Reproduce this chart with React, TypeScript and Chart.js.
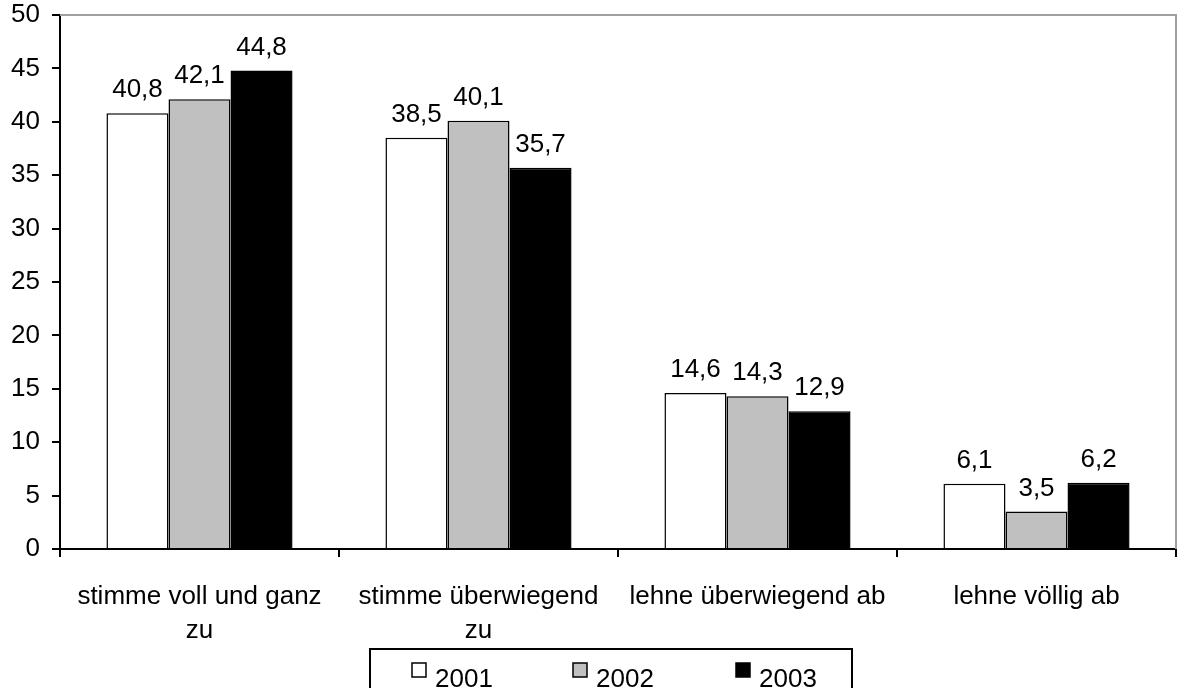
import React, { useEffect, useRef } from "react";
import { Chart, registerables } from "chart.js";

Chart.register(...registerables);

const categories: string[][] = [
  ["stimme voll und ganz", "zu"],
  ["stimme überwiegend", "zu"],
  ["lehne überwiegend ab"],
  ["lehne völlig ab"],
];
const seriesNames = ["2001", "2002", "2003"];
const values2001 = [40.8, 38.5, 14.6, 6.1];
const values2002 = [42.1, 40.1, 14.3, 3.5];
const values2003 = [44.8, 35.7, 12.9, 6.2];
const seriesColors = ["#ffffff", "#c0c0c0", "#000000"];
const yMin = 0;
const yMax = 50;
const yStep = 5;

const FONT = "Liberation Sans, Arial, sans-serif";
const FS = 26;

const valueLabels = {
  id: "valueLabels",
  afterDatasetsDraw(chart: any) {
    const ctx = chart.ctx;
    ctx.save();
    ctx.font = `${FS}px ${FONT}`;
    ctx.fillStyle = "#000";
    ctx.textAlign = "center";
    ctx.textBaseline = "alphabetic";
    chart.data.datasets.forEach((ds: any, i: number) => {
      const meta = chart.getDatasetMeta(i);
      meta.data.forEach((bar: any, j: number) => {
        const v = ds.data[j];
        ctx.fillText(String(v).replace(".", ","), bar.x, bar.y - 16);
      });
    });
    ctx.restore();
  },
};

const frameAndLegend = {
  id: "frameAndLegend",
  afterDraw(chart: any) {
    const ctx = chart.ctx;
    const a = chart.chartArea;
    ctx.save();
    ctx.strokeStyle = "#a0a0a0";
    ctx.lineWidth = 2;
    ctx.beginPath();
    ctx.moveTo(a.left, a.top);
    ctx.lineTo(a.right, a.top);
    ctx.lineTo(a.right, a.bottom);
    ctx.stroke();

    const boxW = 482;
    const cx = (a.left + a.right) / 2 - 7;
    const bx = Math.round(cx - boxW / 2);
    const by = chart.height - 39;
    ctx.strokeStyle = "#000";
    ctx.lineWidth = 2;
    ctx.strokeRect(bx, by, boxW, 80);
    const offsets = [42, 203, 366];
    ctx.font = `${FS}px ${FONT}`;
    ctx.textAlign = "left";
    ctx.textBaseline = "alphabetic";
    seriesNames.forEach((name, i) => {
      const x = bx + offsets[i];
      ctx.fillStyle = seriesColors[i];
      ctx.fillRect(x, by + 14, 14, 14);
      ctx.lineWidth = 1.5;
      ctx.strokeStyle = "#000";
      ctx.strokeRect(x, by + 14, 14, 14);
      ctx.fillStyle = "#000";
      ctx.fillText(name, x + 23, by + 38);
    });
    ctx.restore();
  },
};

export default function App() {
  const ref = useRef<HTMLCanvasElement>(null);
  useEffect(() => {
    const data = [values2001, values2002, values2003];
    const chart = new Chart(ref.current!, {
      type: "bar",
      data: {
        labels: categories,
        datasets: seriesNames.map((n, i) => ({
          label: n,
          data: data[i],
          backgroundColor: seriesColors[i],
          borderColor: "#000",
          borderWidth: 1.5,
          categoryPercentage: 0.667,
          barPercentage: 1,
        })),
      },
      options: {
        animation: false,
        responsive: false,
        layout: { padding: { top: 2, right: 2, left: 0, bottom: 0 } },
        plugins: { legend: { display: false }, tooltip: { enabled: false } },
        scales: {
          x: {
            grid: {
              offset: true,
              drawOnChartArea: false,
              drawTicks: true,
              tickLength: 8,
              color: "#000",
              lineWidth: 2,
            },
            border: { display: true, color: "#000", width: 2 },
            ticks: {
              color: "#000",
              font: { family: FONT, size: FS, lineHeight: 1.31 },
              padding: 23,
              maxRotation: 0,
              autoSkip: false,
            },
            afterFit: (s: any) => {
              s.height = 139;
            },
          },
          y: {
            min: yMin,
            max: yMax,
            grid: {
              drawOnChartArea: false,
              drawTicks: true,
              tickLength: 8,
              color: "#000",
              lineWidth: 2,
            },
            border: { display: true, color: "#000", width: 2 },
            ticks: {
              stepSize: yStep,
              color: "#000",
              font: { family: FONT, size: FS },
              padding: 12,
            },
            afterFit: (s: any) => {
              s.width = 60;
              s.paddingTop = 15;
              s.paddingBottom = 0;
            },
          },
        },
      },
      plugins: [valueLabels, frameAndLegend],
    });
    return () => chart.destroy();
  }, []);
  return (
    <div style={{ position: "absolute", left: 0, top: 0, width: 1178, height: 688, background: "#fff" }}>
      <canvas ref={ref} width={1178} height={688} />
    </div>
  );
}
